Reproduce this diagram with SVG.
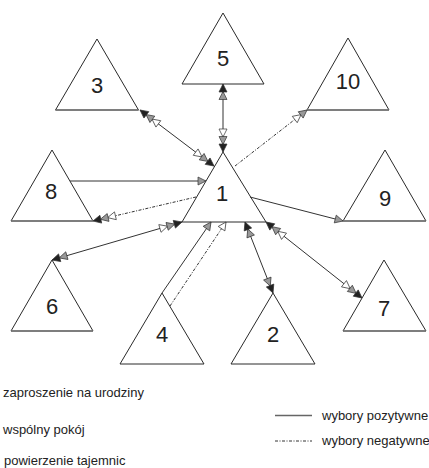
<svg xmlns="http://www.w3.org/2000/svg" width="429" height="468" viewBox="0 0 429 468">
<style>
.tri{fill:#fff;stroke:#2a2a2a;stroke-width:1}
.base{stroke:#777;stroke-width:1.5}
.lbl{font-family:"Liberation Sans",Arial,sans-serif;font-size:22px;fill:#222;text-anchor:middle}
.leg{font-family:"Liberation Sans",Arial,sans-serif;font-size:13px;fill:#222}
.pos{fill:none;stroke:#333;stroke-width:1}
.neg{fill:none;stroke:#333;stroke-width:1;stroke-dasharray:3,1.5,1,1.5}
</style>
<defs>
<marker id="bgw" markerUnits="userSpaceOnUse" orient="auto-start-reverse" markerWidth="1" markerHeight="1" refX="0" refY="0" overflow="visible">
<g stroke="#333" stroke-width="0.7">
<polygon points="-15,0 -23,-4 -23,4" fill="#fff"/>
<polygon points="-7.5,0 -15.5,-4 -15.5,4" fill="#999"/>
<polygon points="0,0 -8,-4 -8,4" fill="#222"/>
</g>
</marker>
<marker id="bg" markerUnits="userSpaceOnUse" orient="auto-start-reverse" markerWidth="1" markerHeight="1" refX="0" refY="0" overflow="visible">
<g stroke="#333" stroke-width="0.7">
<polygon points="-7.5,0 -15.5,-4 -15.5,4" fill="#999"/>
<polygon points="0,0 -8,-4 -8,4" fill="#222"/>
</g>
</marker>
<marker id="gw" markerUnits="userSpaceOnUse" orient="auto-start-reverse" markerWidth="1" markerHeight="1" refX="0" refY="0" overflow="visible">
<g stroke="#333" stroke-width="0.7">
<polygon points="-7.5,0 -15.5,-4 -15.5,4" fill="#fff"/>
<polygon points="0,0 -8,-4 -8,4" fill="#999"/>
</g>
</marker>
<marker id="g" markerUnits="userSpaceOnUse" orient="auto" markerWidth="1" markerHeight="1" refX="0" refY="0" overflow="visible">
<polygon points="0,0 -8,-4 -8,4" fill="#999" stroke="#333" stroke-width="0.7"/>
</marker>
<marker id="w" markerUnits="userSpaceOnUse" orient="auto" markerWidth="1" markerHeight="1" refX="0" refY="0" overflow="visible">
<polygon points="0,0 -8,-4 -8,4" fill="#fff" stroke="#333" stroke-width="0.7"/>
</marker>
</defs>

<g id="n1"><polygon class="tri" points="223,152 182,222 266,222"/><text class="lbl" x="222" y="201">1</text></g>
<g id="n2"><polygon class="tri" points="273,293 231,364 315,364"/><text class="lbl" x="273" y="342">2</text></g>
<g id="n3"><polygon class="tri" points="97,39 55.5,110 138.5,110"/><line class="base" x1="55.5" y1="110" x2="138.5" y2="110"/><text class="lbl" x="97" y="93">3</text></g>
<g id="n4"><polygon class="tri" points="162,293 120,364 204,364"/><text class="lbl" x="162" y="342">4</text></g>
<g id="n5"><polygon class="tri" points="223,13 182,84 264,84"/><text class="lbl" x="223" y="66">5</text></g>
<g id="n6"><polygon class="tri" points="52,260 11,331 93,331"/><line class="base" x1="11" y1="331" x2="93" y2="331"/><text class="lbl" x="52" y="314">6</text></g>
<g id="n7"><polygon class="tri" points="384,260 343,331 426,331"/><line class="base" x1="343" y1="331" x2="426" y2="331"/><text class="lbl" x="384" y="316">7</text></g>
<g id="n8"><polygon class="tri" points="52,150 11,221 93,221"/><line class="base" x1="11" y1="221" x2="93" y2="221"/><text class="lbl" x="51" y="199">8</text></g>
<g id="n9"><polygon class="tri" points="385,150 343,221 426,221"/><line class="base" x1="343" y1="221" x2="426" y2="221"/><text class="lbl" x="385" y="206">9</text></g>
<g id="n10"><polygon class="tri" points="348,38 307,110 389,110"/><line class="base" x1="307" y1="110" x2="389" y2="110"/><text class="lbl" x="348" y="89">10</text></g>

<g id="connectors">
<path class="pos" d="M140,110 L214,166" marker-start="url(#bgw)" marker-end="url(#bgw)"/>
<path class="pos" d="M223,84 L223,152" marker-start="url(#bg)" marker-end="url(#bgw)"/>
<path class="neg" d="M235,166 L307,110" marker-end="url(#gw)"/>
<path class="pos" d="M70,181 L206,181" marker-end="url(#g)"/>
<path class="neg" d="M196,197 L93,221" marker-end="url(#bgw)"/>
<path class="pos" d="M52,260 L182,222" marker-start="url(#bg)" marker-end="url(#bgw)"/>
<path class="pos" d="M162,293 L211,222" marker-end="url(#g)"/>
<path class="neg" d="M170,306 L226,222" marker-end="url(#w)"/>
<path class="pos" d="M245,222 L273,293" marker-start="url(#bg)" marker-end="url(#bg)"/>
<path class="pos" d="M266,222 L362,298" marker-start="url(#bgw)" marker-end="url(#bgw)"/>
<path class="pos" d="M250,197 L343,221" marker-end="url(#g)"/>
</g>

<g id="legend">
<text class="leg" x="3" y="397">zaproszenie na urodziny</text>
<text class="leg" x="3" y="434">wspólny pokój</text>
<text class="leg" x="4" y="465">powierzenie tajemnic</text>
<line x1="275" y1="415.5" x2="312" y2="415.5" stroke="#666" stroke-width="1.5"/>
<line x1="275" y1="441" x2="312" y2="441" stroke="#333" stroke-width="1" stroke-dasharray="3,1.5,1,1.5"/>
<text class="leg" x="322" y="419.5">wybory pozytywne</text>
<text class="leg" x="322" y="445">wybory negatywne</text>
</g>
</svg>
